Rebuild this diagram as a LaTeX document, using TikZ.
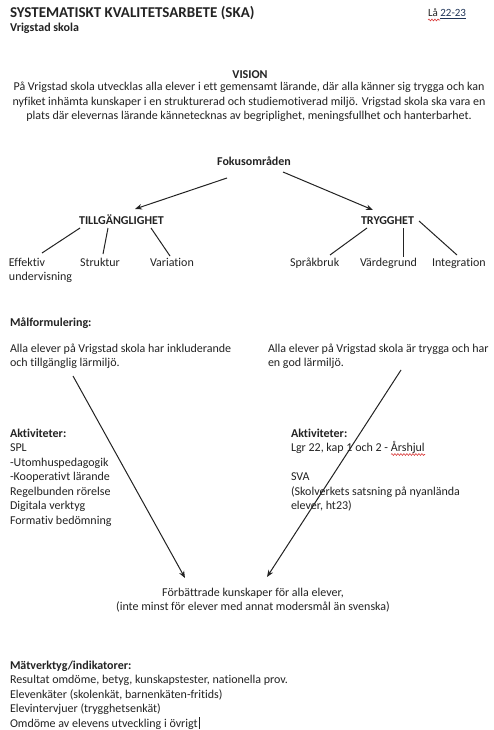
\documentclass[tikz,border=0pt]{standalone}
\usepackage{fontspec}
\setmainfont{Carlito}[Ligatures={NoCommon}]
\usetikzlibrary{arrows.meta,decorations.pathmorphing}
\definecolor{ink}{HTML}{232323}
\definecolor{linkblue}{HTML}{1F3458}
\definecolor{squig}{HTML}{D93A3A}
\begin{document}
\begin{tikzpicture}[x=1pt,y=-1pt,
  txt/.style={inner sep=0pt, outer sep=0pt, text=ink, font=\fontsize{12}{14.5}\selectfont, anchor=base west},
  ctxt/.style={txt, anchor=base},
  btxt/.style={txt, font=\fontsize{12}{14.5}\selectfont\bfseries},
  cbtxt/.style={btxt, anchor=base},
  link/.style={draw=ink, line width=1pt},
  arr/.style={link, -{Stealth[length=7pt,width=5.5pt]}},
  wavy/.style={draw=squig, line width=0.6pt, decorate, decoration={snake, amplitude=0.9pt, segment length=3pt}}
]
\fill[white] (0,0) rectangle (494,730);
\useasboundingbox (0,0) rectangle (494,730);

% header
\node[btxt, font=\fontsize{15}{18}\selectfont\bfseries] (title) at (10,18) {SYSTEMATISKT KVALITETSARBETE (SKA)};
\node[btxt] (school) at (10,32) {Vrigstad skola};
\node[txt, font=\fontsize{11}{13}\selectfont] (year) at (428,17) {Lå \textcolor{linkblue}{\underline{22-23}}};
\draw[wavy] ([shift={(0,3)}]year.base west) -- ([shift={(12,3)}]year.base west);

% vision
\node[cbtxt] (vision) at (250,79) {VISION};
\node[ctxt] (visiontext) at (249,91) {\begin{tabular}[t]{@{}c@{}}
På Vrigstad skola utvecklas alla elever i ett gemensamt lärande, där alla känner sig trygga och kan\\
nyfiket inhämta kunskaper i en strukturerad och studiemotiverad miljö. Vrigstad skola ska vara en\\
plats där elevernas lärande kännetecknas av begriplighet, meningsfullhet och hanterbarhet.
\end{tabular}};

% focus tree
\node[cbtxt] (fokus) at (254,166) {Fokusområden};
\node[cbtxt] (till) at (121.5,224) {TILLGÄNGLIGHET};
\node[cbtxt] (tryg) at (387.5,224) {TRYGGHET};

\node[txt] (eff) at (9,266) {\begin{tabular}[t]{@{}l@{}}Effektiv\\undervisning\end{tabular}};
\node[txt] (struk) at (80,266) {Struktur};
\node[txt] (vari) at (150,266) {Variation};
\node[txt] (sprak) at (290,266) {Språkbruk};
\node[txt] (vard) at (360,266) {Värdegrund};
\node[txt] (integ) at (432,266) {Integration};

\draw[arr] ([shift={(-27,12)}]fokus.base) -- ([shift={(13.5,-15)}]till.base);
\draw[arr] ([shift={(29,6)}]fokus.base) -- ([shift={(-14.5,-14)}]tryg.base);

\draw[link] ([shift={(-41.5,4)}]till.base) -- ([shift={(33,-13)}]eff.base west);
\draw[link] ([shift={(-13.5,4)}]till.base) -- ([shift={(23,-12)}]struk.base west);
\draw[link] ([shift={(29.5,4)}]till.base) -- ([shift={(20,-10)}]vari.base west);

\draw[link] ([shift={(-20.5,4)}]tryg.base) -- ([shift={(40,-11)}]sprak.base west);
\draw[link] ([shift={(15.5,4)}]tryg.base) -- ([shift={(43,-9)}]vard.base west);
\draw[link] ([shift={(31.5,-3)}]tryg.base) -- ([shift={(25,-11)}]integ.base west);

% goals
\node[btxt] (malf) at (10,326) {Målformulering:};
\node[txt] (goalL) at (10,352) {\begin{tabular}[t]{@{}l@{}}Alla elever på Vrigstad skola har inkluderande\\och tillgänglig lärmiljö.\end{tabular}};
\node[txt] (goalR) at (268,352) {\begin{tabular}[t]{@{}l@{}}Alla elever på Vrigstad skola är trygga och har\\en god lärmiljö.\end{tabular}};

% activities
\node[txt] (aktL) at (10,437) {\begin{tabular}[t]{@{}l@{}}\textbf{Aktiviteter:}\\SPL\\-Utomhuspedagogik\\-Kooperativt lärande\\Regelbunden rörelse\\Digitala verktyg\\Formativ bedömning\end{tabular}};
\node[txt] (aktR) at (291,437) {\begin{tabular}[t]{@{}l@{}}\textbf{Aktiviteter:}\\Lgr 22, kap 1 och 2 - Årshjul\\ \\SVA\\(Skolverkets satsning på nyanlända\\elever, ht23)\end{tabular}};
\draw[wavy] ([shift={(100,17.5)}]aktR.base west) -- ([shift={(134,17.5)}]aktR.base west);

% result
\node[ctxt] (result) at (253,596) {\begin{tabular}[t]{@{}c@{}}Förbättrade kunskaper för alla elever,\\(inte minst för elever med annat modersmål än svenska)\end{tabular}};

\draw[arr] ([shift={(63,24)}]goalL.base west) -- ([shift={(-68,-18)}]result.base);
\draw[arr] ([shift={(133,18)}]goalR.base west) -- ([shift={(14,-19)}]result.base);

% measurement
\node[txt] (meas) at (10,669) {\begin{tabular}[t]{@{}l@{}}\textbf{Mätverktyg/indikatorer:}\\Resultat omdöme, betyg, kunskapstester, nationella prov.\\Elevenkäter (skolenkät, barnenkäten-fritids)\\Elevintervjuer (trygghetsenkät)\\Omdöme av elevens utveckling i övrigt\end{tabular}};
\draw[draw=ink, line width=0.9pt] ([shift={(189,48)}]meas.base west) -- ([shift={(189,60)}]meas.base west);
\end{tikzpicture}
\end{document}
